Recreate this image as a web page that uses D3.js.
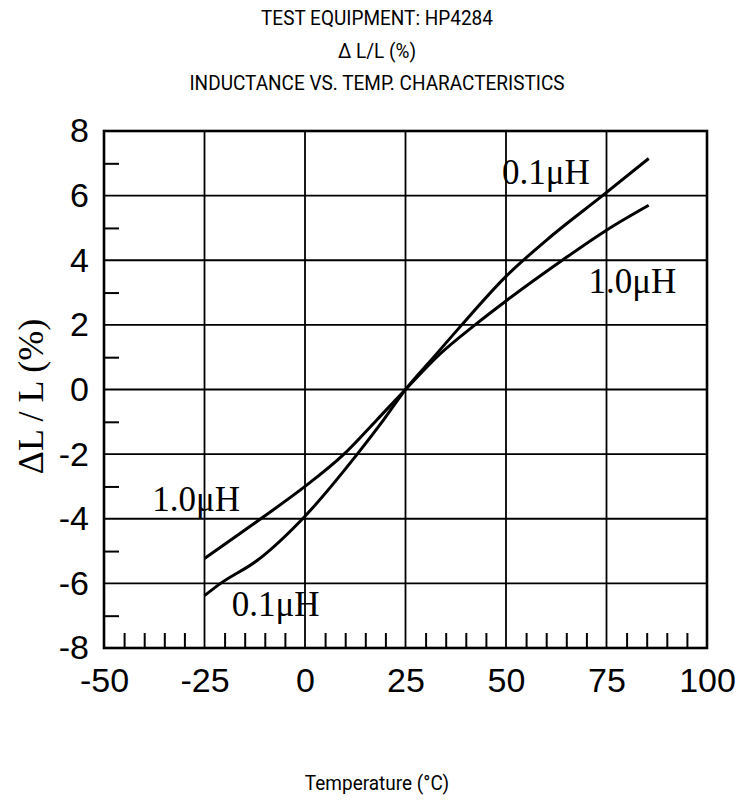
<!DOCTYPE html>
<html>
<head>
<meta charset="utf-8">
<script src="https://cdn.jsdelivr.net/npm/d3@7"></script>
<style>
  body { margin: 0; background: #fff; }
  .title { font-family: Roboto, sans-serif; font-size: 20px; fill: #000; }
  .tick text { font-family: "Liberation Sans", Arial, sans-serif; font-size: 34px; fill: #000; }
  .serif { font-family: "Liberation Serif", "Times New Roman", serif; fill: #000; }
</style>
</head>
<body>
<div id="chart"></div>
<script>
// Axis ticks
const xTicks = [-50, -25, 0, 25, 50, 75, 100];
const yTicks = [-8, -6, -4, -2, 0, 2, 4, 6, 8];

// 0.1uH curve
const temp01 = [-25, -21, -12, 0, 13, 19.5, 25, 32, 39, 50, 61, 74, 85.5];
const dl01 = [-6.38, -6.0, -5.3, -3.92, -2.0, -0.95, 0, 1.0, 2.0, 3.5, 4.72, 6.0, 7.15];

// 1.0uH curve
const temp10 = [-25, -11, 0, 9.7, 17.8, 25, 33.6, 42.3, 50, 64, 75, 85.5];
const dl10 = [-5.23, -4.0, -3.0, -2.0, -0.95, 0, 1.1, 2.0, 2.74, 4.0, 4.93, 5.7];

// curve labels, in data units
const labelText = ["0.1\u03bcH", "1.0\u03bcH", "1.0\u03bcH", "0.1\u03bcH"];
const labelTemp = [49, 70.5, -38, -18.2];
const labelDL = [6.35, 3.0, -3.75, -7.0];

const titleLines = ["TEST EQUIPMENT: HP4284", "\u0394 L/L (%)", "INDUCTANCE VS. TEMP. CHARACTERISTICS"];

const svgWidth = 754;
const svgHeight = 800;

const margin = { top: 131, right: 47, bottom: 152, left: 104 };
const width = svgWidth - margin.left - margin.right;
const height = svgHeight - margin.top - margin.bottom;

const svg = d3.select("#chart")
  .append("svg")
  .attr("width", svgWidth)
  .attr("height", svgHeight);

// titles on top (slightly condensed)
svg.selectAll("text.title")
  .data(titleLines)
  .enter()
  .append("text")
  .attr("class", "title")
  .attr("transform", (d, i) => `translate(${svgWidth / 2}, ${25 + i * 32.5}) scale(0.95, 1)`)
  .attr("text-anchor", "middle")
  .text(d => d);

const chartGroup = svg.append("g")
  .attr("transform", `translate(${margin.left}, ${margin.top})`);

const x = d3.scaleLinear().domain([-50, 100]).range([0, width]);
const y = d3.scaleLinear().domain([-8, 8]).range([height, 0]);

// grid lines
chartGroup.append("g")
  .selectAll("line")
  .data(xTicks.slice(1, -1))
  .enter()
  .append("line")
  .attr("x1", d => x(d)).attr("x2", d => x(d))
  .attr("y1", 0).attr("y2", height)
  .attr("stroke", "#000")
  .attr("stroke-width", 1.8);

chartGroup.append("g")
  .selectAll("line")
  .data(yTicks.slice(1, -1))
  .enter()
  .append("line")
  .attr("x1", 0).attr("x2", width)
  .attr("y1", d => y(d)).attr("y2", d => y(d))
  .attr("stroke", "#000")
  .attr("stroke-width", 1.8);

// minor ticks inside the frame
const xMinor = d3.range(-45, 100, 5).filter(v => v % 25 !== 0);
const yMinor = d3.range(-7, 8, 2);

chartGroup.append("g")
  .attr("transform", `translate(0, ${height})`)
  .call(d3.axisBottom(x).tickValues(xMinor).tickSize(-15).tickFormat(""))
  .call(g => g.select(".domain").remove())
  .selectAll("line").attr("stroke-width", 2);

chartGroup.append("g")
  .call(d3.axisLeft(y).tickValues(yMinor).tickSize(-15).tickFormat(""))
  .call(g => g.select(".domain").remove())
  .selectAll("line").attr("stroke-width", 2);

// tick labels
chartGroup.append("g")
  .attr("transform", `translate(0, ${height})`)
  .call(d3.axisBottom(x).tickValues(xTicks).tickSize(0).tickPadding(20).tickFormat(d => String(d)))
  .call(g => g.select(".domain").remove());

chartGroup.append("g")
  .call(d3.axisLeft(y).tickValues(yTicks).tickSize(0).tickPadding(15).tickFormat(d => String(d)))
  .call(g => g.select(".domain").remove());

// frame
chartGroup.append("rect")
  .attr("x", 0).attr("y", 0)
  .attr("width", width).attr("height", height)
  .attr("fill", "none")
  .attr("stroke", "#000")
  .attr("stroke-width", 2.6);

// curves
const line = d3.line()
  .x(d => x(d[0]))
  .y(d => y(d[1]))
  .curve(d3.curveMonotoneX);

chartGroup.append("path")
  .datum(d3.zip(temp01, dl01))
  .attr("d", line)
  .attr("fill", "none")
  .attr("stroke", "#000")
  .attr("stroke-width", 3);

chartGroup.append("path")
  .datum(d3.zip(temp10, dl10))
  .attr("d", line)
  .attr("fill", "none")
  .attr("stroke", "#000")
  .attr("stroke-width", 3);

// curve labels
chartGroup.selectAll("text.curveLabel")
  .data(labelText)
  .enter()
  .append("text")
  .attr("class", "serif curveLabel")
  .attr("x", (d, i) => x(labelTemp[i]))
  .attr("y", (d, i) => y(labelDL[i]))
  .attr("font-size", 35)
  .text(d => d);

// y axis title
svg.append("text")
  .attr("class", "serif")
  .attr("transform", `translate(43, ${margin.top + height / 2 + 7}) rotate(-90)`)
  .attr("text-anchor", "middle")
  .attr("font-size", 36)
  .text("\u0394L / L (%)");

// x axis title
svg.append("text")
  .attr("class", "title")
  .attr("transform", `translate(${svgWidth / 2}, 790) scale(0.95, 1)`)
  .attr("text-anchor", "middle")
  .text("Temperature (\u00b0C)");
</script>
</body>
</html>
